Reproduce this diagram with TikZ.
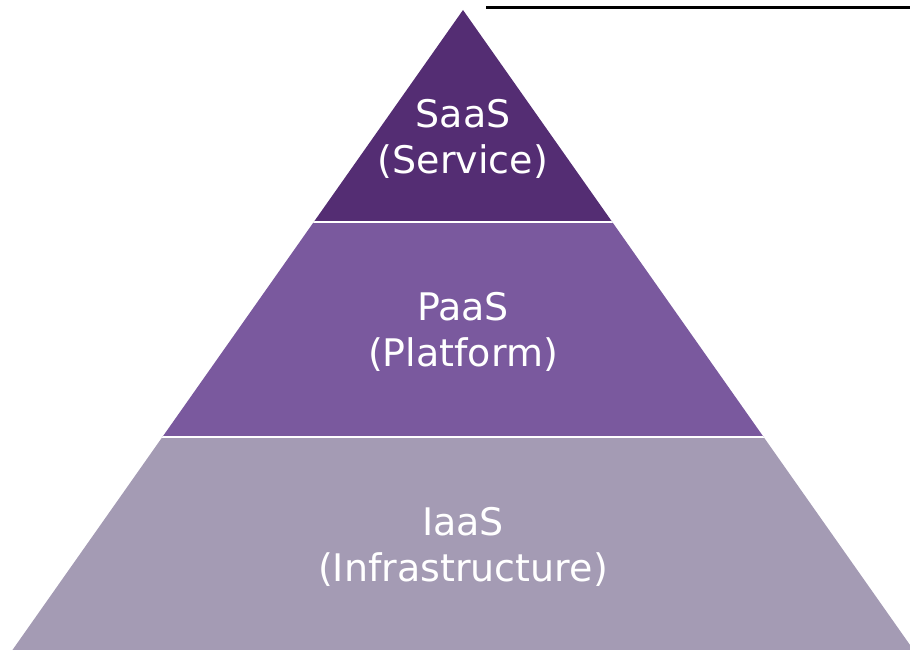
\documentclass[tikz,border=0pt]{standalone}
\usepackage{fontspec}
\setmainfont{DejaVu Sans}
\usepackage{tikz}

\definecolor{saascol}{RGB}{84,45,115}
\definecolor{paascol}{RGB}{122,89,158}
\definecolor{iaascol}{RGB}{164,155,180}

\begin{document}
\begin{tikzpicture}[
				x=1pt, y=-1pt,
				layertext/.style={text=white, align=center, font=\fontsize{38}{46}\selectfont},
				gap/.style={draw=white, line width=2}
			]

			\def \ax {463}
			\def \ay {10}
			\def \sl {0.704}

			\useasboundingbox (0, 0) rectangle (910, 650);

			\coordinate (apex) at (\ax, \ay);
			\coordinate (base-l) at (\ax - \sl * 700, \ay + 700);
			\coordinate (base-r) at (\ax + \sl * 700, \ay + 700);

			\begin{scope}
				\clip (0, 0) rectangle (910, 650);
				\clip (apex) -- (base-l) -- (base-r) -- cycle;
				\fill[saascol] (0, 0) rectangle (910, 222);
				\fill[paascol] (0, 222) rectangle (910, 437);
				\fill[iaascol] (0, 437) rectangle (910, 650);
				\foreach \y in {222, 437} {
						\draw[gap] (0, \y) -- (910, \y);
					}
			\end{scope}

			\node[layertext] (saas) at (463, 139) {SaaS\\(Service)};
			\node[layertext] (paas) at (463, 332) {PaaS\\(Platform)};
			\node[layertext] (iaas) at (463, 547) {IaaS\\(Infrastructure)};

			\coordinate (rule-l) at (486, 8);
			\coordinate (rule-r) at (910, 8);
			\draw[line width=3] (rule-l) -- (rule-r);

		\end{tikzpicture}
\end{document}
